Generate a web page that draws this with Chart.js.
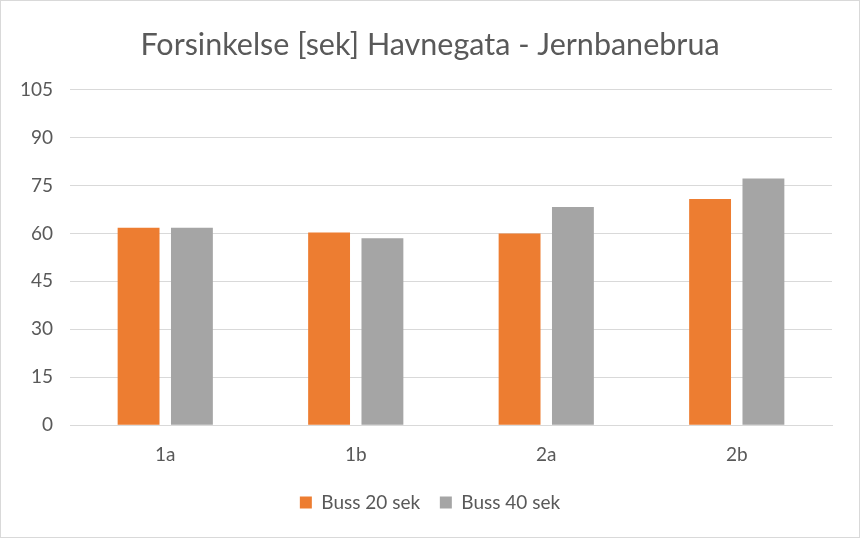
<!DOCTYPE html>
<html>
<head>
<meta charset="utf-8">
<script src="https://cdn.jsdelivr.net/npm/chart.js@4/dist/chart.umd.min.js"></script>
<style>
html,body{margin:0;padding:0;background:#fff;}
#wrap{width:860px;height:538px;position:relative;}
</style>
</head>
<body>
<div id="wrap"><canvas id="c" width="860" height="538"></canvas></div>
<script>
const titleText = "Forsinkelse [sek] Havnegata - Jernbanebrua";
const categories = ["1a", "1b", "2a", "2b"];
const seriesNames = ["Buss 20 sek", "Buss 40 sek"];
const buss20 = [61.8, 60.3, 60.0, 70.8];
const buss40 = [61.8, 58.5, 68.3, 77.2];
const yTicks = [0, 15, 30, 45, 60, 75, 90, 105];

const FONT = "Lato, 'Open Sans', sans-serif";
const GREY = "#595959";

const borderPlugin = {
  id: "frame",
  beforeDraw(chart) {
    const ctx = chart.ctx;
    ctx.save();
    ctx.fillStyle = "#fff";
    ctx.fillRect(0, 0, chart.width, chart.height);
    ctx.restore();
  },
  afterDraw(chart) {
    const ctx = chart.ctx;
    ctx.save();
    ctx.strokeStyle = "#d9d9d9";
    ctx.lineWidth = 1;
    ctx.strokeRect(0.5, 0.5, chart.width - 1, chart.height - 1);
    ctx.restore();
  }
};

new Chart(document.getElementById("c"), {
  type: "bar",
  data: {
    labels: categories,
    datasets: [
      { label: seriesNames[0], data: buss20, backgroundColor: "#ED7D31", barPercentage: 0.785, categoryPercentage: 0.56 },
      { label: seriesNames[1], data: buss40, backgroundColor: "#A5A5A5", barPercentage: 0.785, categoryPercentage: 0.56 }
    ]
  },
  options: {
    responsive: false,
    animation: false,
    layout: { padding: { left: 0, right: 0, top: 0, bottom: 16 } },
    plugins: {
      title: {
        display: true,
        text: titleText,
        color: GREY,
        font: { family: FONT, size: 30.5, weight: "normal" },
        padding: { top: 27, bottom: 26 }
      },
      legend: {
        display: true,
        position: "bottom",
        labels: {
          color: GREY,
          font: { family: FONT, size: 19 },
          boxWidth: 12,
          boxHeight: 12,
          padding: 9,
          generateLabels(chart) {
            const items = Chart.defaults.plugins.legend.labels.generateLabels(chart);
            items.forEach((it, i) => { if (i < items.length - 1) it.text = it.text + "\u2002\u200A"; });
            return items;
          }
        }
      },
      tooltip: { enabled: false }
    },
    scales: {
      x: {
        grid: { display: false, drawTicks: false },
        border: { display: true, color: "#d9d9d9", width: 1 },
        ticks: { color: GREY, font: { family: FONT, size: 19 }, padding: 18 }
      },
      y: {
        min: 0,
        max: 105,
        afterBuildTicks(scale) { scale.ticks = yTicks.map(v => ({ value: v })); },
        afterFit(scale) { scale.width = 70; },
        grid: { color: "#d9d9d9", lineWidth: 1, drawTicks: false },
        border: { display: false },
        ticks: { color: GREY, font: { family: FONT, size: 19 }, padding: 17 }
      },
      yRight: {
        position: "right",
        display: true,
        min: 0,
        max: 105,
        afterFit(scale) { scale.width = 28; },
        grid: { display: false, drawTicks: false },
        border: { display: false },
        ticks: { display: false }
      }
    }
  },
  plugins: [borderPlugin]
});
</script>
</body>
</html>
